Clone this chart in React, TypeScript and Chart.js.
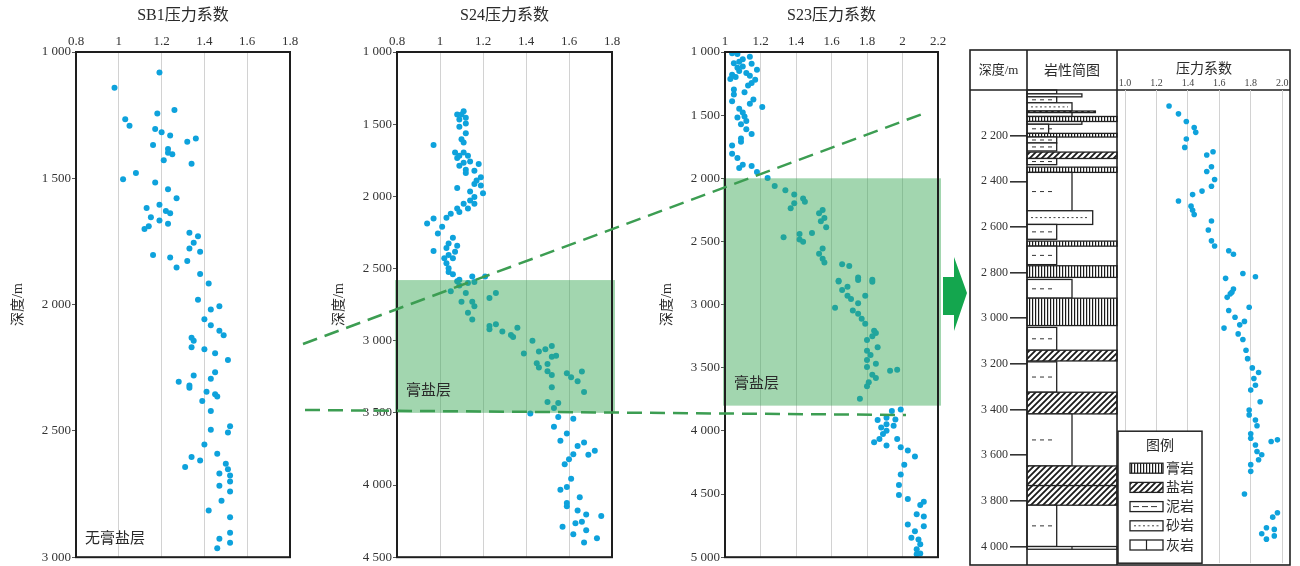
import React, { useEffect, useRef } from "react";
import { Chart, registerables } from "chart.js";

Chart.register(...registerables);

const SERIF = "'Liberation Serif', 'DejaVu Serif', 'Noto Sans CJK SC', serif";
const POINT = "#0ea2dc";
const TEXT = "#2a2a2a";

// ---------------- SB1 ----------------
const sb1Title = "SB1压力系数";
const sb1Note = "无膏盐层";
const sb1XTicks = [0.8, 1.0, 1.2, 1.4, 1.6, 1.8];
const sb1YTicks = [1000, 1500, 2000, 2500, 3000];
const sb1Pressure = [
  1.19, 0.98, 1.26, 1.18, 1.03, 1.05, 1.17, 1.2, 1.24, 1.36, 1.32, 1.16, 1.23, 1.23, 1.25, 1.21, 1.34, 1.08, 1.02,
  1.17, 1.23, 1.27, 1.19, 1.13, 1.22, 1.24, 1.15, 1.19, 1.23, 1.14, 1.12, 1.33, 1.37, 1.35, 1.33, 1.38, 1.16, 1.24,
  1.32, 1.27, 1.38, 1.42, 1.37, 1.47, 1.43, 1.4, 1.43, 1.47, 1.49, 1.34, 1.35, 1.34, 1.4, 1.45, 1.51, 1.45, 1.35,
  1.43, 1.28, 1.33, 1.33, 1.41, 1.45, 1.46, 1.39, 1.43, 1.52, 1.43, 1.51, 1.4, 1.46, 1.34, 1.38, 1.5, 1.31, 1.51,
  1.47, 1.52, 1.52, 1.47, 1.52, 1.48, 1.42, 1.52, 1.52, 1.47, 1.52, 1.46,
];
const sb1Depth = [
  1081, 1142, 1230, 1243, 1266, 1292, 1305, 1318, 1331, 1342, 1355, 1368, 1384, 1399, 1405, 1429, 1442, 1479, 1504,
  1517, 1543, 1579, 1605, 1618, 1629, 1638, 1654, 1667, 1680, 1690, 1701, 1716, 1729, 1755, 1778, 1791, 1804, 1814,
  1827, 1853, 1879, 1916, 1981, 2007, 2019, 2058, 2082, 2104, 2121, 2131, 2143, 2169, 2177, 2193, 2219, 2268, 2281,
  2294, 2305, 2320, 2329, 2345, 2355, 2364, 2382, 2421, 2482, 2495, 2506, 2554, 2590, 2603, 2617, 2630, 2643, 2652,
  2669, 2677, 2700, 2717, 2740, 2777, 2815, 2842, 2903, 2927, 2943, 2965,
];

// ---------------- S24 ----------------
const s24Title = "S24压力系数";
const s24XTicks = [0.8, 1.0, 1.2, 1.4, 1.6, 1.8];
const s24YTicks = [1000, 1500, 2000, 2500, 3000, 3500, 4000, 4500];
const s24SaltZone = [2580, 3500];
const saltLabel = "膏盐层";
const s24Pressure = [
  1.11, 1.1, 1.08, 1.12, 1.09, 1.12, 1.09, 1.12, 1.1, 1.11, 0.97, 1.07, 1.11, 1.09, 1.13, 1.08, 1.14, 1.11, 1.18,
  1.09, 1.12, 1.16, 1.12, 1.19, 1.17, 1.16, 1.19, 1.08, 1.14, 1.2, 1.16, 1.14, 1.16, 1.11, 1.13, 1.08, 1.09, 1.05,
  1.03, 0.97, 0.94, 1.01, 0.99, 1.06, 1.04, 1.08, 1.03, 0.97, 1.07, 1.04, 1.06, 1.02, 1.03, 1.04, 1.04, 1.06, 1.15,
  1.21, 1.09, 1.08, 1.13, 1.16, 1.09, 1.05, 1.12, 1.26, 1.23, 1.1, 1.15, 1.16, 1.13, 1.15, 1.26, 1.23, 1.36, 1.23,
  1.29, 1.33, 1.34, 1.43, 1.52, 1.49, 1.46, 1.39, 1.54, 1.52, 1.45, 1.5, 1.46, 1.5, 1.66, 1.59, 1.52, 1.61, 1.64,
  1.52, 1.67, 1.5, 1.55, 1.53, 1.42, 1.55, 1.62, 1.53, 1.59, 1.56, 1.67, 1.64, 1.72, 1.62, 1.69, 1.6, 1.58, 1.61,
  1.59, 1.56, 1.65, 1.59, 1.59, 1.64, 1.68, 1.75, 1.66, 1.63, 1.57, 1.68, 1.62, 1.73, 1.67,
];
const s24Depth = [
  1410, 1433, 1433, 1455, 1467, 1495, 1517, 1563, 1605, 1627, 1644, 1696, 1696, 1718, 1719, 1735, 1758, 1767, 1776,
  1788, 1815, 1822, 1838, 1868, 1891, 1914, 1925, 1943, 1967, 1978, 2005, 2028, 2051, 2051, 2085, 2085, 2108, 2120,
  2149, 2154, 2189, 2211, 2257, 2287, 2326, 2342, 2358, 2379, 2383, 2406, 2429, 2429, 2463, 2498, 2525, 2539, 2555,
  2555, 2578, 2589, 2601, 2594, 2617, 2658, 2669, 2669, 2704, 2731, 2731, 2761, 2807, 2853, 2887, 2898, 2910, 2921,
  2937, 2960, 2974, 3001, 3036, 3059, 3075, 3089, 3104, 3111, 3157, 3162, 3185, 3212, 3214, 3226, 3237, 3253, 3281,
  3322, 3356, 3425, 3432, 3466, 3505, 3528, 3540, 3597, 3643, 3693, 3705, 3729, 3762, 3787, 3791, 3821, 3856, 3956,
  4014, 4032, 4085, 4124, 4147, 4176, 4204, 4215, 4254, 4265, 4289, 4313, 4341, 4368, 4398,
];

// ---------------- S23 ----------------
const s23Title = "S23压力系数";
const s23XTicks = [1.0, 1.2, 1.4, 1.6, 1.8, 2.0, 2.2];
const s23YTicks = [1000, 1500, 2000, 2500, 3000, 3500, 4000, 4500, 5000];
const s23SaltZone = [2000, 3800];
const s23Pressure = [
  1.04, 1.07, 1.14, 1.1, 1.08, 1.05, 1.15, 1.1, 1.07, 1.18, 1.08, 1.12, 1.04, 1.14, 1.06, 1.03, 1.17, 1.15, 1.13,
  1.05, 1.11, 1.05, 1.16, 1.04, 1.14, 1.21, 1.08, 1.1, 1.11, 1.07, 1.12, 1.09, 1.12, 1.15, 1.09, 1.09, 1.04, 1.04,
  1.07, 1.1, 1.15, 1.08, 1.18, 1.24, 1.28, 1.34, 1.39, 1.44, 1.45, 1.39, 1.37, 1.55, 1.53, 1.56, 1.54, 1.57, 1.49,
  1.42, 1.33, 1.42, 1.44, 1.55, 1.53, 1.55, 1.56, 1.66, 1.7, 1.75, 1.75, 1.64, 1.64, 1.83, 1.83, 1.69, 1.66, 1.69,
  1.79, 1.71, 1.75, 1.62, 1.72, 1.75, 1.77, 1.79, 1.84, 1.85, 1.83, 1.8, 1.86, 1.8, 1.82, 1.8, 1.85, 1.8, 1.97,
  1.93, 1.83, 1.85, 1.81, 1.8, 1.76, 1.99, 1.94, 1.91, 1.96, 1.86, 1.91, 1.95, 1.88, 1.91, 1.89, 1.87, 1.97, 1.84,
  1.91, 1.99, 2.03, 2.07, 2.01, 1.99, 1.98, 1.98, 2.03, 2.12, 2.1, 2.08, 2.12, 2.03, 2.12, 2.07, 2.05, 2.09, 2.1,
  2.08, 2.1, 2.08,
];
const s23Depth = [
  1010, 1016, 1037, 1057, 1078, 1089, 1094, 1115, 1125, 1141, 1151, 1167, 1180, 1188, 1198, 1214, 1219, 1245, 1266,
  1297, 1318, 1336, 1376, 1389, 1410, 1436, 1449, 1480, 1511, 1519, 1546, 1572, 1611, 1650, 1684, 1710, 1741, 1806,
  1840, 1893, 1903, 1919, 1950, 1997, 2060, 2094, 2128, 2159, 2185, 2198, 2237, 2250, 2276, 2315, 2341, 2388, 2433,
  2441, 2467, 2484, 2502, 2556, 2597, 2636, 2667, 2681, 2694, 2785, 2806, 2811, 2817, 2803, 2819, 2858, 2885, 2929,
  2929, 2955, 2990, 3025, 3047, 3073, 3112, 3151, 3208, 3224, 3250, 3281, 3338, 3365, 3400, 3438, 3469, 3495, 3516,
  3524, 3555, 3581, 3615, 3646, 3746, 3830, 3842, 3895, 3909, 3913, 3947, 3960, 3973, 3999, 4025, 4064, 4064, 4090,
  4116, 4129, 4155, 4202, 4268, 4346, 4429, 4508, 4539, 4560, 4586, 4659, 4677, 4742, 4755, 4794, 4846, 4859, 4898,
  4937, 4971, 4977,
];

// ---------------- Lithology log ----------------
const litHeaderDepth = "深度/m";
const litHeaderColumn = "岩性简图";
const litHeaderPressure = "压力系数";
const litXTicks = [1.0, 1.2, 1.4, 1.6, 1.8, 2.0];
const litYTicks = [2200, 2400, 2600, 2800, 3000, 3200, 3400, 3600, 3800, 4000];
const litPressure = [
  1.28, 1.34, 1.39, 1.44, 1.45, 1.39, 1.38, 1.56, 1.52, 1.55, 1.52, 1.57, 1.55, 1.49, 1.43, 1.34, 1.42, 1.43, 1.44,
  1.55, 1.53, 1.55, 1.57, 1.66, 1.69, 1.75, 1.83, 1.64, 1.69, 1.68, 1.67, 1.65, 1.79, 1.66, 1.7, 1.76, 1.73, 1.63,
  1.72, 1.75, 1.77, 1.78, 1.81, 1.85, 1.82, 1.83, 1.8, 1.86, 1.79, 1.79, 1.83, 1.84, 1.8, 1.8, 1.93, 1.97, 1.83,
  1.84, 1.87, 1.85, 1.8, 1.8, 1.76, 1.94, 1.97, 1.9, 1.87, 1.95, 1.95, 1.9,
];
const litDepth = [
  2069, 2103, 2136, 2162, 2183, 2212, 2248, 2267, 2281, 2332, 2352, 2387, 2416, 2437, 2452, 2480, 2502, 2520, 2538,
  2566, 2605, 2652, 2674, 2695, 2710, 2793, 2807, 2814, 2860, 2874, 2881, 2896, 2939, 2953, 2982, 3000, 3015, 3029,
  3054, 3078, 3125, 3161, 3201, 3221, 3247, 3276, 3297, 3347, 3383, 3404, 3426, 3451, 3486, 3505, 3519, 3512, 3534,
  3562, 3576, 3598, 3619, 3648, 3746, 3846, 3827, 3892, 3918, 3899, 3927, 3941,
];
// layers: top, bottom, lithology, relative box width
const layerTop = [
  2000, 2017, 2030, 2056, 2092, 2099, 2116, 2138, 2150, 2190, 2206, 2232, 2272, 2300, 2338, 2361, 2529, 2589, 2662,
  2684, 2770, 2830, 2912, 3040, 3140, 3191, 3324, 3419, 3647, 3733, 3819, 4000,
];
const layerBottom = [
  2017, 2030, 2056, 2092, 2099, 2116, 2138, 2150, 2190, 2206, 2232, 2267, 2300, 2327, 2361, 2529, 2589, 2654, 2684,
  2765, 2821, 2912, 3032, 3140, 3187, 3324, 3419, 3647, 3733, 3819, 4000, 4012,
];
const layerLith = [
  "mud", "sand", "mud", "sand", "salt", "mud", "gyp", "sand", "mud", "gyp", "mud", "mud", "salt", "mud", "gyp", "mud",
  "sand", "mud", "gyp", "mud", "gyp", "mud", "gyp", "mud", "salt", "mud", "salt", "mud", "salt", "salt", "mud", "lime",
];
const layerWidth = [
  0.33, 0.61, 0.33, 0.5, 0.76, 0.5, 1, 0.61, 0.24, 1, 0.33, 0.33, 1, 0.33, 1, 0.5, 0.73, 0.33, 1, 0.33, 1, 0.5, 1,
  0.33, 1, 0.33, 1, 0.5, 1, 1, 0.33, 1,
];
const legendTitle = "图例";
const legendTypes = ["gyp", "salt", "mud", "sand", "lime"];
const legendLabels = ["膏岩", "盐岩", "泥岩", "砂岩", "灰岩"];

// ---------------- correlation lines & arrow (page overlay coordinates) ----------------
const corrLine1X = [303, 925];
const corrLine1Y = [344, 113];
const corrLine2X = [305, 906];
const corrLine2Y = [410, 415];
const arrowX = [943, 954, 954, 967, 954, 954, 943];
const arrowY = [277, 277, 257, 293, 331, 315, 315];

function fmtDepth(v: number) {
  const th = Math.floor(v / 1000);
  const rest = Math.round(v % 1000);
  return th > 0 ? `${th} ${String(rest).padStart(3, "0")}` : String(rest);
}
function fmtCoef(v: number) {
  return String(Number(Number(v).toFixed(1)));
}

type Patterns = { gyp: CanvasPattern | string; salt: CanvasPattern | string };

function makePatterns(): Patterns {
  const g = document.createElement("canvas");
  g.width = 3;
  g.height = 4;
  const gc = g.getContext("2d")!;
  gc.fillStyle = "#fff";
  gc.fillRect(0, 0, 3, 4);
  gc.fillStyle = "#1a1a1a";
  gc.fillRect(0, 0, 1.2, 4);
  const s = document.createElement("canvas");
  s.width = 6;
  s.height = 6;
  const sc = s.getContext("2d")!;
  sc.fillStyle = "#fff";
  sc.fillRect(0, 0, 6, 6);
  sc.strokeStyle = "#1a1a1a";
  sc.lineWidth = 1.8;
  sc.beginPath();
  sc.moveTo(0, 6);
  sc.lineTo(6, 0);
  sc.moveTo(-3, 3);
  sc.lineTo(3, -3);
  sc.moveTo(3, 9);
  sc.lineTo(9, 3);
  sc.stroke();
  const ctx = document.createElement("canvas").getContext("2d")!;
  return {
    gyp: ctx.createPattern(g, "repeat") || "#888",
    salt: ctx.createPattern(s, "repeat") || "#888",
  };
}

function drawLith(
  ctx: CanvasRenderingContext2D,
  pats: Patterns,
  type: string,
  x: number,
  y: number,
  w: number,
  h: number,
  legend: boolean
) {
  ctx.save();
  ctx.fillStyle = "#fff";
  ctx.fillRect(x, y, w, h);
  if (type === "gyp") {
    ctx.fillStyle = pats.gyp;
    ctx.fillRect(x, y, w, h);
  } else if (type === "salt") {
    ctx.fillStyle = pats.salt;
    ctx.fillRect(x, y, w, h);
  } else if (type === "mud") {
    ctx.strokeStyle = "#333";
    ctx.lineWidth = 1;
    const my = y + h / 2;
    ctx.beginPath();
    if (legend) {
      ctx.setLineDash([6, 3]);
      ctx.moveTo(x + 3, my);
      ctx.lineTo(x + w - 3, my);
    } else if (h > 5) {
      for (let k = 0; k < 3; k++) {
        ctx.moveTo(x + 5 + k * 8, my);
        ctx.lineTo(x + 9 + k * 8, my);
      }
    }
    ctx.stroke();
  } else if (type === "sand") {
    ctx.strokeStyle = "#444";
    ctx.lineWidth = 1;
    const my = y + h / 2;
    if (h > 4) {
      ctx.beginPath();
      ctx.setLineDash([2, 2.5]);
      ctx.moveTo(x + 4, my);
      ctx.lineTo(x + w - 4, my);
      ctx.stroke();
    }
  } else if (type === "lime") {
    ctx.strokeStyle = "#222";
    ctx.lineWidth = 1.2;
    ctx.beginPath();
    ctx.moveTo(x + w / 2, y);
    ctx.lineTo(x + w / 2, y + h);
    ctx.stroke();
  }
  ctx.setLineDash([]);
  ctx.strokeStyle = "#222";
  ctx.lineWidth = 1.3;
  ctx.strokeRect(x, y, w, h);
  ctx.restore();
}

type WellCfg = {
  title: string;
  pressure: number[];
  depth: number[];
  xMin: number;
  xMax: number;
  xTicks: number[];
  yMin: number;
  yMax: number;
  yTicks: number[];
  plotLeft: number;
  plotRight: number;
  plotBottom: number;
  zone?: number[];
  note?: string;
};

function makeWellChart(canvas: HTMLCanvasElement, cfg: WellCfg) {
  const decor = {
    id: "wellDecor",
    afterDatasetsDraw(chart: any) {
      const { ctx, chartArea: a } = chart;
      const y = chart.scales.y;
      if (cfg.zone) {
        const t = y.getPixelForValue(cfg.zone[0]);
        const b = y.getPixelForValue(cfg.zone[1]);
        ctx.save();
        ctx.fillStyle = "rgba(58,168,84,0.47)";
        ctx.fillRect(a.left - 2, t, a.right - a.left + 5, b - t);
        ctx.fillStyle = TEXT;
        ctx.font = `15px ${SERIF}`;
        ctx.textBaseline = "middle";
        ctx.textAlign = "left";
        ctx.fillText(saltLabel, a.left + 9, b - 22);
        ctx.restore();
      }
    },
    afterDraw(chart: any) {
      const { ctx, chartArea: a } = chart;
      ctx.save();
      ctx.strokeStyle = "#1e1e1e";
      ctx.lineWidth = 2;
      ctx.strokeRect(a.left, a.top, a.right - a.left, a.bottom - a.top);
      if (cfg.note) {
        ctx.fillStyle = TEXT;
        ctx.font = `15px ${SERIF}`;
        ctx.textBaseline = "middle";
        ctx.fillText(cfg.note, a.left + 9, a.bottom - 18);
      }
      ctx.restore();
    },
  };
  return new Chart(canvas, {
    type: "scatter",
    data: {
      datasets: [
        {
          data: cfg.pressure.map((p, i) => ({ x: p, y: cfg.depth[i] })),
          backgroundColor: POINT,
          borderWidth: 0,
          pointRadius: 3,
          pointHoverRadius: 3,
        },
      ],
    },
    options: {
      responsive: false,
      animation: false,
      devicePixelRatio: 1,
      events: [],
      layout: { padding: { left: cfg.plotLeft - 70, top: 2, right: 1300 - cfg.plotRight, bottom: 566 - cfg.plotBottom } },
      plugins: { legend: { display: false }, tooltip: { enabled: false } },
      scales: {
        x: {
          type: "linear",
          position: "top",
          min: cfg.xMin,
          max: cfg.xMax,
          afterBuildTicks: (s: any) => {
            s.ticks = cfg.xTicks.map((v) => ({ value: v }));
          },
          afterFit: (s: any) => {
            s.height = 50;
          },
          grid: { color: "#d2d2d2", lineWidth: 1, drawTicks: false },
          border: { display: false },
          ticks: {
            padding: 3,
            autoSkip: false,
            maxRotation: 0,
            minRotation: 0,
            color: "#333",
            font: { family: SERIF, size: 13 },
            callback: (v: any) => fmtCoef(v),
          },
          title: {
            display: true,
            text: cfg.title,
            color: TEXT,
            font: { family: SERIF, size: 16 },
            padding: { top: 4, bottom: 0 },
          },
        },
        y: {
          type: "linear",
          position: "left",
          reverse: true,
          min: cfg.yMin,
          max: cfg.yMax,
          afterBuildTicks: (s: any) => {
            s.ticks = cfg.yTicks.map((v) => ({ value: v }));
          },
          afterFit: (s: any) => {
            s.width = 70;
          },
          grid: { drawOnChartArea: false, drawTicks: true, tickLength: 4, color: "#555" },
          border: { display: false },
          ticks: {
            padding: 1,
            autoSkip: false,
            color: "#333",
            font: { family: SERIF, size: 13 },
            callback: (v: any) => fmtDepth(Number(v)),
          },
          title: {
            display: true,
            text: "深度/m",
            color: TEXT,
            font: { family: SERIF, size: 14 },
            padding: { top: 4, bottom: 0 },
          },
        },
      },
    },
    plugins: [decor],
  } as any);
}

const LIT_DEPTH_MIN = 2000;
const LIT_DEPTH_MAX = 4045;

function makeLithColumn(canvas: HTMLCanvasElement, pats: Patterns) {
  const decor = {
    id: "lithDecor",
    afterDraw(chart: any) {
      const { ctx, chartArea: a } = chart;
      const xs = chart.scales.x;
      const ys = chart.scales.y;
      for (let i = 0; i < layerTop.length; i++) {
        const x0 = xs.getPixelForValue(0);
        const x1 = xs.getPixelForValue(layerWidth[i]);
        const y0 = ys.getPixelForValue(layerTop[i]);
        const y1 = ys.getPixelForValue(layerBottom[i]);
        drawLith(ctx, pats, layerLith[i], x0, y0, x1 - x0, y1 - y0, false);
      }
      // table frame
      const tL = 970,
        tT = 50,
        tR = 1290,
        tB = 565,
        hB = 90;
      ctx.save();
      ctx.strokeStyle = "#222";
      ctx.lineWidth = 1.6;
      ctx.strokeRect(tL, tT, tR - tL, tB - tT);
      ctx.beginPath();
      ctx.moveTo(tL, hB);
      ctx.lineTo(tR, hB);
      ctx.moveTo(a.left, tT);
      ctx.lineTo(a.left, tB);
      ctx.moveTo(a.right, tT);
      ctx.lineTo(a.right, tB);
      ctx.stroke();
      ctx.fillStyle = TEXT;
      ctx.textAlign = "center";
      ctx.textBaseline = "middle";
      ctx.font = `13px ${SERIF}`;
      ctx.fillText(litHeaderDepth, (tL + a.left) / 2, 71);
      ctx.font = `14px ${SERIF}`;
      ctx.fillText(litHeaderColumn, (a.left + a.right) / 2, 71);
      ctx.restore();
    },
  };
  return new Chart(canvas, {
    type: "scatter",
    data: { datasets: [] },
    options: {
      responsive: false,
      animation: false,
      devicePixelRatio: 1,
      events: [],
      layout: { padding: { left: 970, top: 90, right: 1300 - 1117, bottom: 1 } },
      plugins: { legend: { display: false }, tooltip: { enabled: false } },
      scales: {
        x: { type: "linear", min: 0, max: 1, display: false },
        y: {
          type: "linear",
          position: "left",
          reverse: true,
          min: LIT_DEPTH_MIN,
          max: LIT_DEPTH_MAX,
          afterBuildTicks: (s: any) => {
            s.ticks = litYTicks.map((v) => ({ value: v }));
          },
          afterFit: (s: any) => {
            s.width = 57;
          },
          grid: { drawOnChartArea: false, drawTicks: true, tickLength: 17, color: "#333", lineWidth: 1.6 },
          border: { display: false },
          ticks: {
            padding: 2,
            autoSkip: false,
            color: "#333",
            font: { family: SERIF, size: 12 },
            callback: (v: any) => fmtDepth(Number(v)),
          },
        },
      },
    },
    plugins: [decor],
  } as any);
}

function makeLithPressure(canvas: HTMLCanvasElement, pats: Patterns) {
  const decor = {
    id: "lithLegend",
    afterDraw(chart: any) {
      const { ctx, chartArea: a } = chart;
      const bw = 84,
        bh = 132;
      const bx = a.left,
        by = a.bottom - bh;
      ctx.save();
      ctx.fillStyle = "#fff";
      ctx.fillRect(bx, by, bw, bh);
      ctx.strokeStyle = "#222";
      ctx.lineWidth = 1.5;
      ctx.strokeRect(bx, by, bw, bh);
      ctx.fillStyle = TEXT;
      ctx.textAlign = "center";
      ctx.textBaseline = "middle";
      ctx.font = `14px ${SERIF}`;
      ctx.fillText(legendTitle, bx + bw / 2, by + 15);
      for (let i = 0; i < legendTypes.length; i++) {
        const cy = by + 37 + i * 19.2;
        drawLith(ctx, pats, legendTypes[i], bx + 12, cy - 5, 33, 10, true);
        ctx.fillStyle = TEXT;
        ctx.textAlign = "left";
        ctx.font = `14px ${SERIF}`;
        ctx.fillText(legendLabels[i], bx + 48, cy + 1);
      }
      ctx.restore();
    },
  };
  return new Chart(canvas, {
    type: "scatter",
    data: {
      datasets: [
        {
          data: litPressure.map((p, i) => ({ x: p, y: litDepth[i] })),
          backgroundColor: POINT,
          borderWidth: 0,
          pointRadius: 2.8,
          pointHoverRadius: 2.8,
        },
      ],
    },
    options: {
      responsive: false,
      animation: false,
      devicePixelRatio: 1,
      events: [],
      layout: { padding: { left: 1118, top: 57, right: 10, bottom: 1 } },
      plugins: { legend: { display: false }, tooltip: { enabled: false } },
      scales: {
        x: {
          type: "linear",
          position: "top",
          min: 0.955,
          max: 2.05,
          afterBuildTicks: (s: any) => {
            s.ticks = litXTicks.map((v) => ({ value: v }));
          },
          afterFit: (s: any) => {
            s.height = 33;
          },
          grid: { color: "#d2d2d2", lineWidth: 1, drawTicks: false },
          border: { display: false },
          ticks: {
            padding: 1,
            autoSkip: false,
            maxRotation: 0,
            minRotation: 0,
            color: "#444",
            font: { family: SERIF, size: 10 },
            callback: (v: any) => Number(v).toFixed(1),
          },
          title: {
            display: true,
            text: litHeaderPressure,
            color: TEXT,
            font: { family: SERIF, size: 14 },
            padding: { top: 4, bottom: 0 },
          },
        },
        y: { type: "linear", reverse: true, min: LIT_DEPTH_MIN, max: LIT_DEPTH_MAX, display: false },
      },
    },
    plugins: [decor],
  } as any);
}

function makeOverlay(canvas: HTMLCanvasElement) {
  const arrow = {
    id: "arrow",
    afterDatasetsDraw(chart: any) {
      const { ctx } = chart;
      const xs = chart.scales.x;
      const ys = chart.scales.y;
      ctx.save();
      ctx.fillStyle = "#14a64e";
      ctx.beginPath();
      arrowX.forEach((x, i) => {
        const px = xs.getPixelForValue(x);
        const py = ys.getPixelForValue(arrowY[i]);
        if (i === 0) ctx.moveTo(px, py);
        else ctx.lineTo(px, py);
      });
      ctx.closePath();
      ctx.fill();
      ctx.restore();
    },
  };
  const lineStyle = {
    borderColor: "#3c9d52",
    borderWidth: 2.5,
    borderDash: [15, 8],
    pointRadius: 0,
    fill: false,
    tension: 0,
    clip: false,
  };
  return new Chart(canvas, {
    type: "line",
    data: {
      datasets: [
        { ...lineStyle, data: corrLine1X.map((x, i) => ({ x, y: corrLine1Y[i] })) },
        { ...lineStyle, data: corrLine2X.map((x, i) => ({ x, y: corrLine2Y[i] })) },
      ],
    },
    options: {
      responsive: false,
      animation: false,
      devicePixelRatio: 1,
      events: [],
      layout: { padding: 0 },
      plugins: { legend: { display: false }, tooltip: { enabled: false } },
      scales: {
        x: { type: "linear", min: 0, max: 1300, display: false },
        y: { type: "linear", min: 0, max: 566, reverse: true, display: false },
      },
    },
    plugins: [arrow],
  } as any);
}

export default function App() {
  const refs = useRef<(HTMLCanvasElement | null)[]>([]);
  useEffect(() => {
    const c = refs.current;
    const pats = makePatterns();
    const charts: Chart[] = [];
    charts.push(
      makeWellChart(c[0]!, {
        title: sb1Title,
        pressure: sb1Pressure,
        depth: sb1Depth,
        xMin: 0.8,
        xMax: 1.8,
        xTicks: sb1XTicks,
        yMin: 1000,
        yMax: 3000,
        yTicks: sb1YTicks,
        plotLeft: 76,
        plotRight: 290,
        plotBottom: 563,
        note: sb1Note,
      })
    );
    charts.push(
      makeWellChart(c[1]!, {
        title: s24Title,
        pressure: s24Pressure,
        depth: s24Depth,
        xMin: 0.8,
        xMax: 1.8,
        xTicks: s24XTicks,
        yMin: 1000,
        yMax: 4500,
        yTicks: s24YTicks,
        plotLeft: 397,
        plotRight: 612,
        plotBottom: 562,
        zone: s24SaltZone,
      })
    );
    charts.push(
      makeWellChart(c[2]!, {
        title: s23Title,
        pressure: s23Pressure,
        depth: s23Depth,
        xMin: 1.0,
        xMax: 2.2,
        xTicks: s23XTicks,
        yMin: 1000,
        yMax: 5000,
        yTicks: s23YTicks,
        plotLeft: 725,
        plotRight: 938,
        plotBottom: 563,
        zone: s23SaltZone,
      })
    );
    charts.push(makeLithColumn(c[3]!, pats));
    charts.push(makeLithPressure(c[4]!, pats));
    charts.push(makeOverlay(c[5]!));
    return () => charts.forEach((ch) => ch.destroy());
  }, []);
  return (
    <div
      style={{
        position: "fixed",
        left: 0,
        top: 0,
        width: 1300,
        height: 566,
        background: "#fff",
        overflow: "hidden",
      }}
    >
      {[0, 1, 2, 3, 4, 5].map((i) => (
        <canvas
          key={i}
          ref={(el) => {
            refs.current[i] = el;
          }}
          width={1300}
          height={566}
          style={{ position: "absolute", left: 0, top: 0, width: 1300, height: 566, pointerEvents: "none" }}
        />
      ))}
    </div>
  );
}
